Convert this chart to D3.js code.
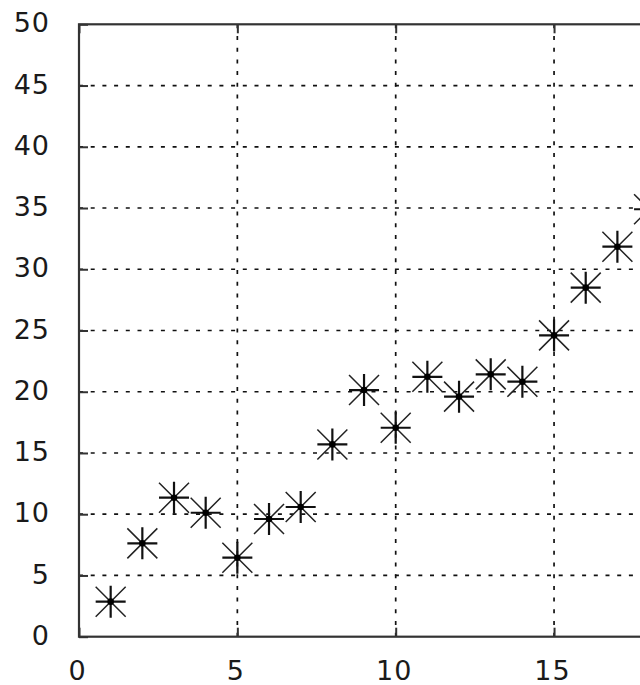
<!DOCTYPE html>
<html>
<head>
<meta charset="utf-8">
<script src="https://cdn.jsdelivr.net/npm/d3@7"></script>
<style>
  html, body { margin: 0; padding: 0; background: #fff; }
  svg { display: block; }
</style>
</head>
<body>
<div id="chart"></div>
<script>
const xValues = [1, 2, 3, 4, 5, 6, 7, 8, 9, 10, 11, 12, 13, 14, 15, 16, 17, 18];
const yValues = [2.86, 7.62, 11.35, 10.12, 6.45, 9.61, 10.59, 15.7, 20.14, 17.06, 21.22, 19.6, 21.42, 20.82, 24.6, 28.5, 31.84, 34.9];
const xTicks = [0, 5, 10, 15];
const yTicks = [0, 5, 10, 15, 20, 25, 30, 35, 40, 45, 50];

(function () {
const W = 640, H = 685;
const pLeft = 79, pRight = 712.4, pTop = 24.3, pBottom = 636.7;
const fs = 27;

const svg = d3.select("#chart").append("svg").attr("width", W).attr("height", H);

const x = d3.scaleLinear().domain([0, 20]).range([pLeft, pRight]);
const y = d3.scaleLinear().domain([0, 50]).range([pBottom, pTop]);

const gridColor = "#111";
svg.append("g").selectAll("line").data(yTicks.filter(d => d > 0 && d < 50)).join("line")
  .attr("x1", pLeft).attr("x2", pRight)
  .attr("y1", d => y(d)).attr("y2", d => y(d))
  .attr("stroke", gridColor).attr("stroke-width", 1.7)
  .attr("stroke-dasharray", "4,7.7");
svg.append("g").selectAll("line").data(xTicks.filter(d => d > 0)).join("line")
  .attr("x1", d => x(d)).attr("x2", d => x(d))
  .attr("y1", pBottom).attr("y2", pTop)
  .attr("stroke", gridColor).attr("stroke-width", 1.7)
  .attr("stroke-dasharray", "4,7.7");

const tickLen = 9;
const axisColor = "#333";
function styleAxis(g) {
  g.select(".domain").remove();
  g.selectAll(".tick line").attr("stroke", axisColor).attr("stroke-width", 2);
  g.selectAll(".tick text").remove();
}
svg.append("g").attr("transform", `translate(0,${pBottom})`)
  .call(d3.axisBottom(x).tickValues(xTicks).tickSizeInner(-tickLen).tickSizeOuter(0)).call(styleAxis);
svg.append("g").attr("transform", `translate(0,${pTop})`)
  .call(d3.axisTop(x).tickValues(xTicks).tickSizeInner(-tickLen).tickSizeOuter(0)).call(styleAxis);
svg.append("g").attr("transform", `translate(${pLeft},0)`)
  .call(d3.axisLeft(y).tickValues(yTicks).tickSizeInner(-tickLen).tickSizeOuter(0)).call(styleAxis);

svg.append("rect").attr("x", pLeft).attr("y", pTop)
  .attr("width", pRight - pLeft).attr("height", pBottom - pTop)
  .attr("fill", "none").attr("stroke", axisColor).attr("stroke-width", 2.2);

svg.append("g").selectAll("text").data(yTicks).join("text")
  .attr("x", 50).attr("y", d => y(d) - 1.8 + 0.3645 * fs)
  .attr("text-anchor", "end")
  .attr("font-family", "DejaVu Sans").attr("font-size", fs).attr("fill", "#1a1a1a")
  .attr("letter-spacing", 1)
  .text(d => d);
svg.append("g").selectAll("text").data(xTicks).join("text")
  .attr("x", d => x(d) - 1.5).attr("y", 680)
  .attr("text-anchor", "middle")
  .attr("font-family", "DejaVu Sans").attr("font-size", fs).attr("fill", "#1a1a1a")
  .attr("letter-spacing", 1)
  .text(d => d);

const pts = xValues.map((v, i) => [v, yValues[i]]);
const r = 15;
const mg = svg.append("g").selectAll("g").data(pts).join("g")
  .attr("transform", d => `translate(${x(d[0])},${y(d[1])})`);
mg.append("path").attr("d", `M${-r},0H${r}M0,${-r - 1}V${r + 1}`)
  .attr("stroke", "#111").attr("stroke-width", 2.2).attr("fill", "none");
mg.append("path").attr("d", `M${-r},${-r}L${r},${r}M${-r},${r}L${r},${-r}`)
  .attr("stroke", "#222").attr("stroke-width", 1.5).attr("fill", "none");
mg.append("circle").attr("r", 3.3).attr("fill", "#000");
})();
</script>
</body>
</html>
